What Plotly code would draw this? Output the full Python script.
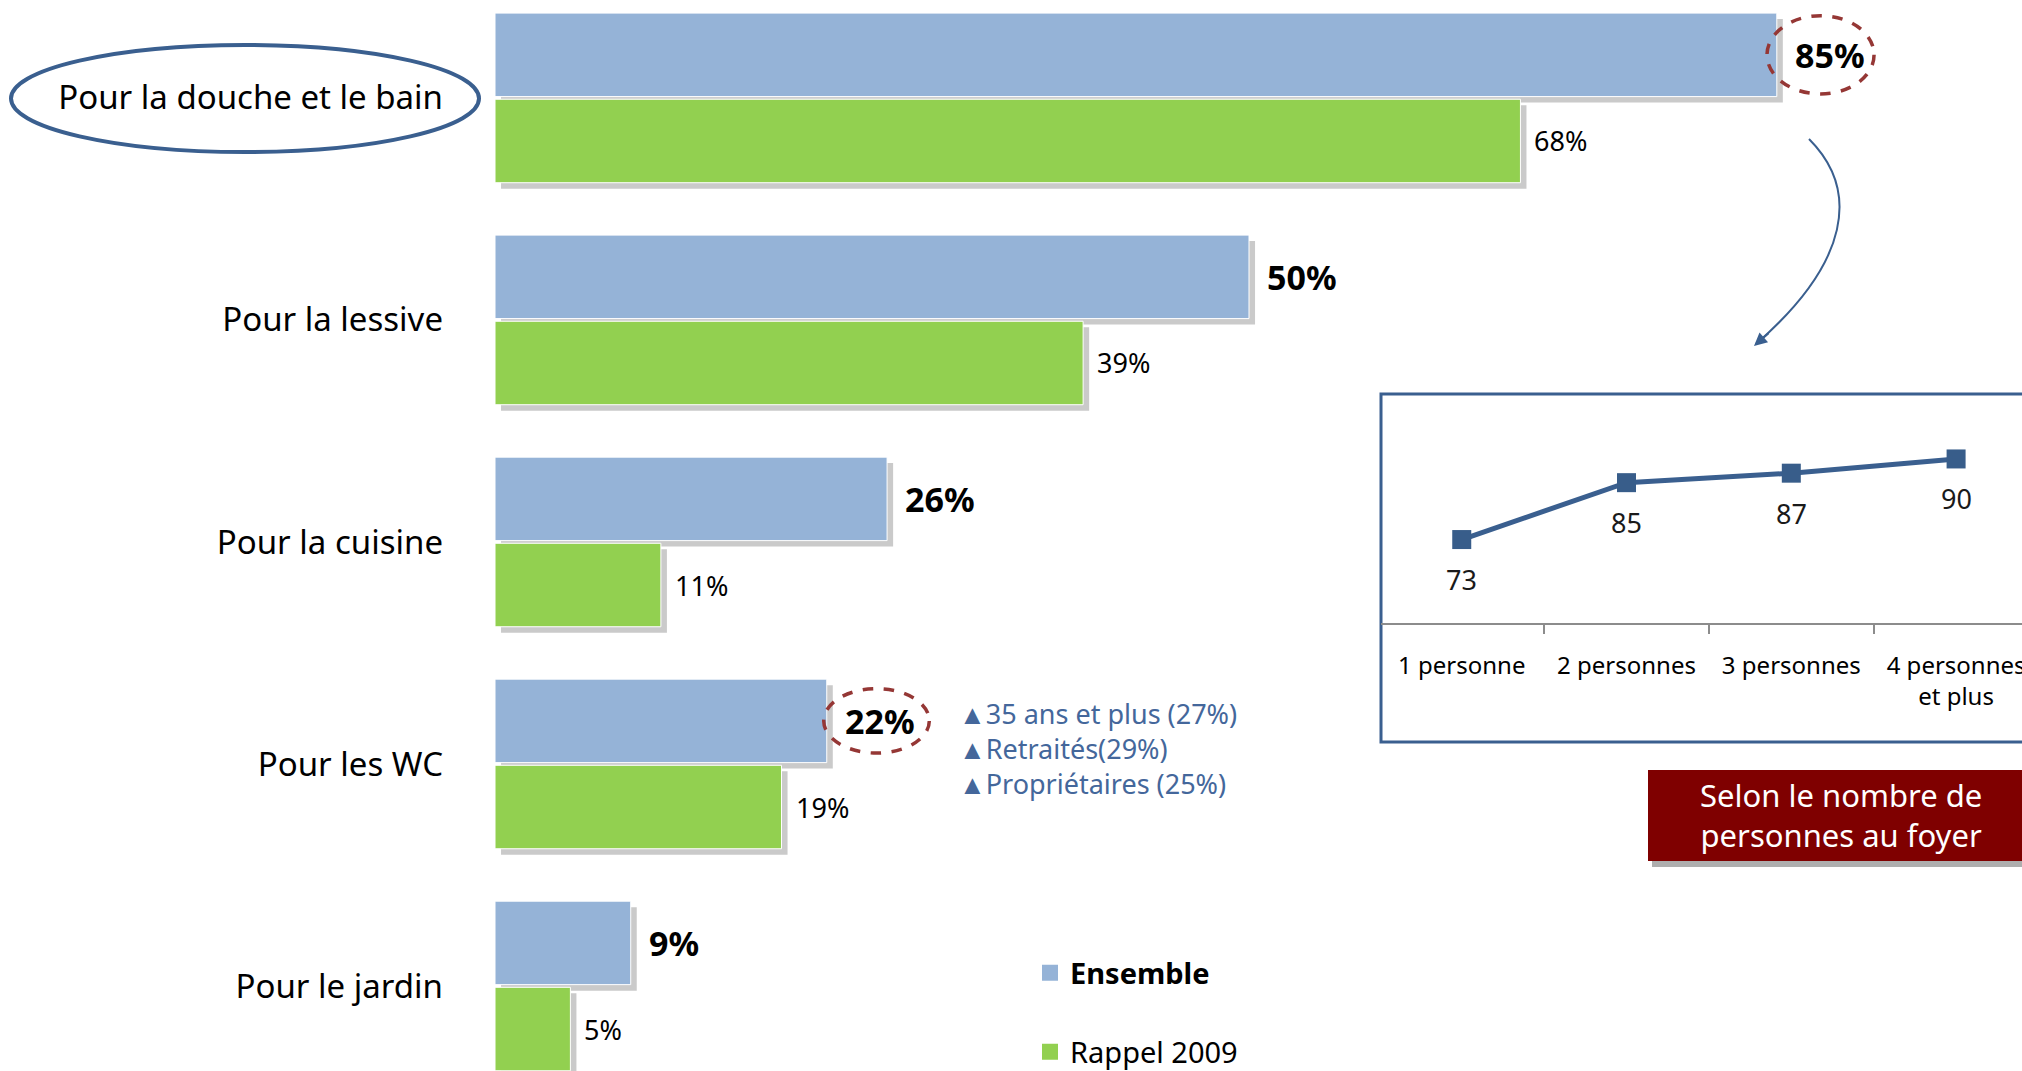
import plotly.graph_objects as go

# ---------------- data ----------------
categories = ["Pour la douche et le bain", "Pour la lessive", "Pour la cuisine",
              "Pour les WC", "Pour le jardin"]
ensemble = [85, 50, 26, 22, 9]
rappel_2009 = [68, 39, 11, 19, 5]

household_sizes = ["1 personne", "2 personnes", "3 personnes", "4 personnes<br>et plus"]
household_values = [73, 85, 87, 90]

wc_subgroups = ["35 ans et plus (27%)", "Retraités(29%)", "Propriétaires (25%)"]
inset_title = "Selon le nombre de<br>personnes au foyer"

# ---------------- styling ----------------
W, H = 2022, 1071
FONT = "Noto Sans"
BLUE = "#95B3D7"
GREEN = "#92D050"
DARKBLUE = "#3A5F8F"
DASHRED = "#953735"
SHADOW = "rgba(150,150,150,0.5)"


def px_x(p):
    return p / W


def px_y(p):
    return 1 - p / H


OFF = 0.194      # half distance between the two bars of a group
BW = 0.376       # bar thickness (category units)
idx = list(range(len(categories)))
y_blue = [i - OFF for i in idx]
y_green = [i + OFF for i in idx]

fig = go.Figure()

# shadows
fig.add_trace(go.Bar(y=[v + 0.027 for v in y_blue], x=ensemble, base=0.4, orientation="h",
                     width=BW, marker=dict(color=SHADOW, line=dict(width=0)),
                     showlegend=False, hoverinfo="skip"))
fig.add_trace(go.Bar(y=[v + 0.027 for v in y_green], x=rappel_2009, base=0.4, orientation="h",
                     width=BW, marker=dict(color=SHADOW, line=dict(width=0)),
                     showlegend=False, hoverinfo="skip"))
# bars
fig.add_trace(go.Bar(y=y_blue, x=ensemble, orientation="h", width=BW, name="Ensemble",
                     marker=dict(color=BLUE, line=dict(color="white", width=1)),
                     showlegend=False))
fig.add_trace(go.Bar(y=y_green, x=rappel_2009, orientation="h", width=BW, name="Rappel 2009",
                     marker=dict(color=GREEN, line=dict(color="white", width=1)),
                     showlegend=False))
# legend entries (square keys)
fig.add_trace(go.Scatter(x=[None], y=[None], mode="markers", name="<b>Ensemble</b>",
                         marker=dict(symbol="square", size=18, color=BLUE),
                         legend="legend"))
fig.add_trace(go.Scatter(x=[None], y=[None], mode="markers", name="Rappel 2009",
                         marker=dict(symbol="square", size=18, color=GREEN),
                         legend="legend2"))

annotations = []
for v, y in zip(ensemble, y_blue):
    annotations.append(dict(x=v, y=y, xref="x", yref="y", text=f"<b>{v}%</b>",
                            xanchor="left", yanchor="middle", xshift=16, showarrow=False,
                            font=dict(family=FONT, size=34, color="black")))
for v, y in zip(rappel_2009, y_green):
    annotations.append(dict(x=v, y=y, xref="x", yref="y", text=f"{v}%",
                            xanchor="left", yanchor="middle", xshift=12, showarrow=False,
                            font=dict(family=FONT, size=27, color="black")))

# WC sub-group notes
annotations.append(dict(x=px_x(957), y=2.932, xref="paper", yref="y",
                        text="<br>".join("▲" + s for s in wc_subgroups),
                        xanchor="left", yanchor="middle", align="left", showarrow=False,
                        font=dict(family=FONT, size=27, color="#44679B")))

# ---------------- inset line chart ----------------
fig.add_trace(go.Scatter(x=household_sizes, y=household_values, mode="lines+markers",
                         xaxis="x2", yaxis="y2", showlegend=False,
                         line=dict(color=DARKBLUE, width=5),
                         marker=dict(symbol="square", size=19, color="#385D8A")))
for c, v in zip(household_sizes, household_values):
    annotations.append(dict(x=c, y=v, xref="x2", yref="y2", text=str(v), yshift=-40,
                            xanchor="center", yanchor="middle",
                            showarrow=False, font=dict(family=FONT, size=27, color="#1a1a1a")))

annotations.append(dict(x=px_x(1841), y=px_y(815), xref="paper", yref="paper",
                        xanchor="center", yanchor="middle",
                        text=inset_title, showarrow=False,
                        font=dict(family=FONT, size=31, color="white")))

# arrow head
annotations.append(dict(x=px_x(1754), y=px_y(346), xref="paper", yref="paper", text="",
                        showarrow=True, ax=16, ay=-14, arrowhead=2, arrowsize=1.3,
                        arrowwidth=2, arrowcolor=DARKBLUE))

shapes = []
# inset box
shapes.append(dict(type="rect", xref="paper", yref="paper", x0=px_x(1381), x1=px_x(2040),
                   y0=px_y(742), y1=px_y(394), line=dict(color=DARKBLUE, width=3),
                   fillcolor="rgba(0,0,0,0)", layer="below"))
# title box + shadow
shapes.append(dict(type="rect", xref="paper", yref="paper", x0=px_x(1652), x1=px_x(2040),
                   y0=px_y(867), y1=px_y(860), line=dict(width=0),
                   fillcolor="rgba(120,120,120,0.6)"))
shapes.append(dict(type="rect", xref="paper", yref="paper", x0=px_x(1648), x1=px_x(2040),
                   y0=px_y(861), y1=px_y(770), line=dict(width=0), fillcolor="#7F0000"))
# curved connector
p0, c1, c2, p3 = (1809, 139), (1860, 190), (1850, 262), (1756, 344)
path = "M {} {} C {} {}, {} {}, {} {}".format(
    px_x(p0[0]), px_y(p0[1]), px_x(c1[0]), px_y(c1[1]),
    px_x(c2[0]), px_y(c2[1]), px_x(p3[0]), px_y(p3[1]))
shapes.append(dict(type="path", xref="paper", yref="paper", path=path,
                   line=dict(color=DARKBLUE, width=2)))
# highlight ellipses around values
shapes.append(dict(type="circle", xref="x", yref="y",
                   x0=ensemble[0] + 2.9 - 3.55, x1=ensemble[0] + 2.9 + 3.55,
                   y0=y_blue[0] - 0.176, y1=y_blue[0] + 0.176,
                   line=dict(color=DASHRED, width=3.5, dash="dash")))
shapes.append(dict(type="circle", xref="x", yref="y",
                   x0=ensemble[3] + 3.3 - 3.5, x1=ensemble[3] + 3.3 + 3.5,
                   y0=y_blue[3] - 0.145, y1=y_blue[3] + 0.145,
                   line=dict(color=DASHRED, width=3.5, dash="dash")))
# ellipse around first category label
shapes.append(dict(type="circle", xref="paper", yref="paper",
                   x0=px_x(11), x1=px_x(479), y0=px_y(152), y1=px_y(45),
                   line=dict(color=DARKBLUE, width=4)))

legend_common = dict(xanchor="left", font=dict(family=FONT, size=29, color="black"),
                     bgcolor="rgba(0,0,0,0)", itemsizing="trace")

fig.update_layout(
    width=W, height=H, autosize=False,
    margin=dict(l=0, r=0, t=0, b=0, pad=0, autoexpand=False),
    paper_bgcolor="white", plot_bgcolor="rgba(0,0,0,0)",
    barmode="overlay",
    font=dict(family=FONT, color="black"),
    xaxis=dict(domain=[495 / W, 2003 / W], range=[0, 100], showgrid=False, zeroline=False,
               showticklabels=False, showline=False, fixedrange=True),
    yaxis=dict(range=[4.383, -0.441], tickvals=idx, ticktext=categories, showgrid=False,
               zeroline=False, showline=False, ticks="", ticklabelstandoff=51,
               tickfont=dict(family=FONT, size=33, color="black")),
    xaxis2=dict(domain=[1381 / W, 1.0], anchor="y2", type="category",
                range=[-0.49, 3.4], showgrid=False, zeroline=False, showline=True,
                linecolor="#8c8c8c", linewidth=2, ticks="outside", tickson="boundaries",
                ticklen=9, tickcolor="#8c8c8c", tickwidth=2,
                tickfont=dict(family=FONT, size=24, color="black"), ticklabelstandoff=20),
    yaxis2=dict(domain=[px_y(623), px_y(394)], anchor="x2", range=[55.4, 103.7],
                showgrid=False, zeroline=False, showline=False, showticklabels=False),
    legend=dict(x=px_x(1030), y=px_y(973), yanchor="middle", **legend_common),
    legend2=dict(x=px_x(1030), y=px_y(1052), yanchor="middle", **legend_common),
    annotations=annotations,
    shapes=shapes,
)

fig.write_html("out.html")
